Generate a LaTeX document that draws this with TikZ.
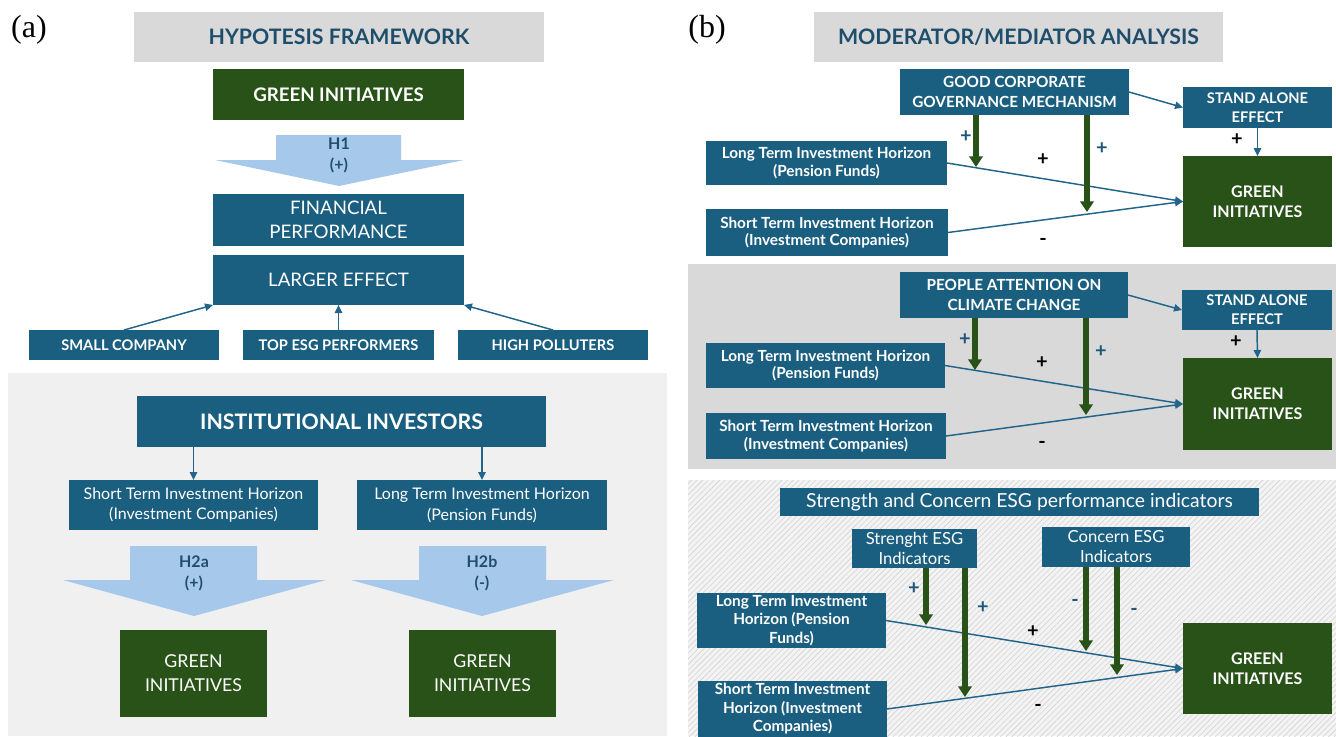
\documentclass[tikz,border=0pt]{standalone}
\usepackage{fontspec}
\setmainfont{Lato}
\newfontfamily\labfont{Liberation Serif}
\usetikzlibrary{arrows.meta,patterns.meta,calc}
\definecolor{boxblue}{RGB}{26,94,128}
\definecolor{dgreen}{RGB}{40,82,23}
\definecolor{lightblue}{RGB}{166,200,234}
\definecolor{titlegray}{RGB}{217,217,217}
\definecolor{titletext}{RGB}{30,78,108}
\definecolor{arrowblue}{RGB}{33,100,140}
\definecolor{labelblue}{RGB}{30,85,122}
\definecolor{bga}{RGB}{240,240,240}
\definecolor{bgtwo}{RGB}{217,217,217}
\definecolor{hatchbg}{RGB}{243,243,243}
\definecolor{hatchline}{RGB}{212,212,212}
\newcommand\fs[2]{\fontsize{#1}{#2}\selectfont}
\newcommand\bx[7]{\node[#1,minimum width={(#5-#3)*0.75pt},minimum height={(#6-#4)*0.75pt}] (#2) at ({(#3+#5)/2},{(#4+#6)/2}) {#7};}
\tikzset{
  base/.style={inner sep=0pt, outer sep=0pt, align=center, text=white},
  bluebox/.style={base, fill=boxblue},
  greenbox/.style={base, fill=dgreen},
  titlebox/.style={base, fill=titlegray, text=titletext, font=\bfseries\fs{16}{19}},
  conn/.style={draw=arrowblue, line width=1.1pt, -{Triangle[length=6pt,width=5.5pt]}},
  modarrow/.style={draw=dgreen, line width=3.8pt, -{Triangle[length=8pt,width=10pt]}},
  hlabel/.style={text=titletext, font=\bfseries\fs{12}{15.75}, align=center, inner sep=0pt},
  sign/.style={font=\bfseries\fs{15}{15}, inner sep=0pt},
  bigarrow/.style={fill=lightblue, draw=none},
  panlabel/.style={font=\labfont\fs{24}{24}, inner sep=0pt},
}
\begin{document}
\begin{tikzpicture}[x=0.75pt,y=-0.75pt]
\useasboundingbox (0,0) rectangle (1336,736);
\fill[white] (0,0) rectangle (1336,736);
% ---------------- panel (a) ----------------
\node[panlabel] (la) at (29,30) {(a)};
\bx{titlebox}{ta}{134}{12}{544}{62}{HYPOTESIS FRAMEWORK}
\bx{greenbox, font=\bfseries\fs{14}{17}}{gi0}{213}{69}{464}{120}{GREEN INITIATIVES}
\fill[bigarrow] (276,135) -- (401,135) -- (401,160) -- (464,160) -- (339,186) -- (215,160) -- (276,160) -- cycle;
\node[hlabel] (h1) at (339,155) {H1\\(+)};
\bx{bluebox, font=\fs{14}{18}}{fp}{213}{194}{464}{246}{FINANCIAL\\PERFORMANCE}
\bx{bluebox, font=\fs{14}{17}}{le}{213}{255}{464}{305}{LARGER EFFECT}
\bx{bluebox, font=\bfseries\fs{11}{13}}{sc}{29}{330}{219}{360}{SMALL COMPANY}
\bx{bluebox, font=\bfseries\fs{11}{13}}{tp}{243}{330}{434}{360}{TOP ESG PERFORMERS}
\bx{bluebox, font=\bfseries\fs{11}{13}}{hp}{458}{330}{648}{360}{HIGH POLLUTERS}
\draw[conn] (sc.north) -- (le.south west);
\draw[conn] (tp.north) -- (le.south);
\draw[conn] (hp.north) -- (le.south east);
% bottom part of (a)
\fill[bga] (8,373) rectangle (667,736);
\bx{bluebox, font=\bfseries\fs{16}{19}}{ii}{137}{396}{546}{447}{INSTITUTIONAL INVESTORS}
\bx{bluebox, font=\fs{12}{15.5}}{st0}{69}{480}{318}{530}{Short Term Investment Horizon\\(Investment Companies)}
\bx{bluebox, font=\fs{12}{15.5}}{lt0}{357}{480}{607}{530}{Long Term Investment Horizon\\(Pension Funds)}
\draw[conn] (ii.south -| st0.north) -- (st0.north);
\draw[conn] (ii.south -| lt0.north) -- (lt0.north);
\fill[bigarrow] (130,546) -- (257,546) -- (257,580) -- (326,580) -- (194,616) -- (63,580) -- (130,580) -- cycle;
\node[hlabel] (h2a) at (194,573) {H2a\\(+)};
\fill[bigarrow] (419,546) -- (546,546) -- (546,580) -- (614,580) -- (482,616) -- (351,580) -- (419,580) -- cycle;
\node[hlabel] (h2b) at (482,573) {H2b\\(-)};
\bx{greenbox, font=\fs{13.3}{18}}{gia}{120}{630}{267}{717}{GREEN\\INITIATIVES}
\bx{greenbox, font=\fs{13.3}{18}}{gib}{409}{630}{556}{717}{GREEN\\INITIATIVES}
% ---------------- panel (b) ----------------
\node[panlabel] (lb) at (707,30) {(b)};
\bx{titlebox}{tb}{814}{12}{1223}{62}{MODERATOR/MEDIATOR ANALYSIS}
% sub-panel 1
\bx{bluebox, font=\bfseries\fs{11.5}{15}}{gc}{900}{69}{1129}{115}{GOOD CORPORATE\\GOVERNANCE MECHANISM}
\bx{bluebox, font=\bfseries\fs{11}{14}}{sa1}{1183}{87}{1332}{128}{STAND ALONE\\EFFECT}
\bx{greenbox, font=\bfseries\fs{12}{15}}{gi1}{1183}{156}{1332}{247}{GREEN\\INITIATIVES}
\bx{bluebox, font=\bfseries\fs{11.5}{13}}{lt1}{706}{141}{947}{185}{Long Term Investment Horizon\\(Pension Funds)}
\bx{bluebox, font=\bfseries\fs{11.5}{13}}{st1}{706}{209}{948}{256}{Short Term Investment Horizon\\(Investment Companies)}
\draw[conn] (gc.east) -- (sa1.west);
\draw[conn] (sa1.south) -- (gi1.north);
\draw[conn] (lt1.east) -- (gi1.west);
\draw[conn] (st1.east) -- (gi1.west);
\coordinate (m1a) at (976,167);
\coordinate (m1b) at (1087,212);
\draw[modarrow] (gc.south -| m1a) -- (m1a);
\draw[modarrow] (gc.south -| m1b) -- (m1b);
\node[sign, text=labelblue] (s1a) at (966,137) {+};
\node[sign] (s1b) at (1043,160) {+};
\node[sign, text=labelblue] (s1c) at (1102,149) {+};
\node[sign] (s1d) at (1043,242) {-};
\node[sign] (s1e) at (1237,140) {+};
% sub-panel 2
\fill[bgtwo] (688,264) rectangle (1336,469);
\bx{bluebox, font=\bfseries\fs{11.5}{15}}{pa}{900}{272}{1128}{318}{PEOPLE ATTENTION ON\\CLIMATE CHANGE}
\bx{bluebox, font=\bfseries\fs{11}{14}}{sa2}{1182}{290}{1332}{330}{STAND ALONE\\EFFECT}
\bx{greenbox, font=\bfseries\fs{12}{15}}{gi2}{1183}{358}{1332}{450}{GREEN\\INITIATIVES}
\bx{bluebox, font=\bfseries\fs{11.5}{13}}{lt2}{706}{343}{945}{388}{Long Term Investment Horizon\\(Pension Funds)}
\bx{bluebox, font=\bfseries\fs{11.5}{13}}{st2}{706}{413}{946}{459}{Short Term Investment Horizon\\(Investment Companies)}
\draw[conn] (pa.east) -- (sa2.west);
\draw[conn] (sa2.south) -- (gi2.north);
\draw[conn] (lt2.east) -- (gi2.west);
\draw[conn] (st2.east) -- (gi2.west);
\coordinate (m2a) at (975,370);
\coordinate (m2b) at (1086,415);
\draw[modarrow] (pa.south -| m2a) -- (m2a);
\draw[modarrow] (pa.south -| m2b) -- (m2b);
\node[sign, text=labelblue] (s2a) at (965,340) {+};
\node[sign] (s2b) at (1042,363) {+};
\node[sign, text=labelblue] (s2c) at (1101,352) {+};
\node[sign] (s2d) at (1042,445) {-};
\node[sign] (s2e) at (1236,342) {+};
% sub-panel 3
\fill[hatchbg] (688,480) rectangle (1336,736);
\path[pattern={Lines[angle=45,distance=3pt,line width=0.45pt]}, pattern color=hatchline] (688,480) rectangle (1336,736);
\bx{bluebox, font=\fs{14.5}{17}}{sc3}{780}{488}{1259}{516}{Strength and Concern ESG performance indicators}
\bx{bluebox, font=\fs{12.5}{15}}{se}{852}{529}{977}{568}{Strenght ESG\\Indicators}
\bx{bluebox, font=\fs{12.5}{15}}{ce}{1042}{527}{1190}{567}{Concern ESG\\Indicators}
\bx{bluebox, font=\bfseries\fs{11.5}{13.9}}{lt3}{697}{593}{886}{648}{Long Term Investment\\Horizon (Pension\\Funds)}
\bx{bluebox, font=\bfseries\fs{11.5}{13.9}}{st3}{698}{681}{887}{737}{Short Term Investment\\Horizon (Investment\\Companies)}
\bx{greenbox, font=\bfseries\fs{12}{15}}{gi3}{1183}{623}{1332}{714}{GREEN\\INITIATIVES}
\draw[conn] (lt3.east) -- (gi3.west);
\draw[conn] (st3.east) -- (gi3.west);
\coordinate (m3a) at (926,625);
\coordinate (m3b) at (965,697);
\coordinate (m3c) at (1086,651);
\coordinate (m3d) at (1117,675);
\draw[modarrow] (se.south -| m3a) -- (m3a);
\draw[modarrow] (se.south -| m3b) -- (m3b);
\draw[modarrow] (ce.south -| m3c) -- (m3c);
\draw[modarrow] (ce.south -| m3d) -- (m3d);
\node[sign, text=labelblue] (s3a) at (914,589) {+};
\node[sign, text=labelblue] (s3b) at (983,608) {+};
\node[sign] (s3c) at (1033,632) {+};
\node[sign, text=labelblue] (s3d) at (1075,603) {-};
\node[sign, text=labelblue] (s3e) at (1134,612) {-};
\node[sign] (s3f) at (1038,708) {-};
\end{tikzpicture}
\end{document}
